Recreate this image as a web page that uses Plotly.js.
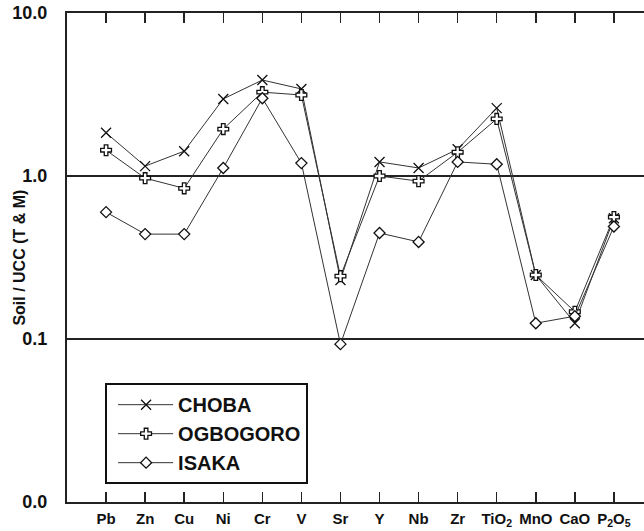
<!DOCTYPE html>
<html><head><meta charset="utf-8">
<script src="https://cdn.plot.ly/plotly-3.0.1.min.js"></script>
<style>html,body{margin:0;padding:0;background:#fff;overflow:hidden}#chart{width:644px;height:531px}</style>
</head><body><div id="chart"></div>
<script>
const categories = ['Pb','Zn','Cu','Ni','Cr','V','Sr','Y','Nb','Zr','TiO<sub>2</sub>','MnO','CaO','P<sub>2</sub>O<sub>5</sub>'];
const choba    = [1.84, 1.15, 1.42, 2.97, 3.88, 3.42, 0.23, 1.22, 1.12, 1.46, 2.61, 0.247, 0.125, 0.55];
const ogbogoro = [1.44, 0.97, 0.84, 1.94, 3.27, 3.14, 0.243, 1.0, 0.93, 1.40, 2.24, 0.247, 0.147, 0.56];
const isaka    = [0.60, 0.44, 0.44, 1.12, 3.0, 1.2, 0.093, 0.447, 0.394, 1.22, 1.18, 0.125, 0.138, 0.49];
const yTickVals = [0.01, 0.1, 1, 10];
const yTickText = ['0.0', '0.1', '1.0', '10.0'];

function mk(name, y, symbol, size, fill) {
  return {x: categories, y: y, name: name, type: 'scatter', mode: 'lines+markers',
    line: {color: '#333', width: 1},
    marker: {symbol: symbol, size: size, color: fill, line: {color: '#111', width: 1.3}}};
}
const traces = [
  mk('CHOBA', choba, 'x-thin-open', 10, '#111'),
  mk('OGBOGORO', ogbogoro, 'cross', 9, '#fff'),
  mk('ISAKA', isaka, 'diamond', 8.5, '#fff')
];

const layout = {
  width: 644, height: 531,
  margin: {l: 67, r: 0, t: 13, b: 29},
  paper_bgcolor: '#fff', plot_bgcolor: '#fff',
  font: {family: '"Liberation Sans", Arial, sans-serif', color: '#111'},
  showlegend: true,
  legend: {x: 0.066, y: 0.243, xanchor: 'left', yanchor: 'top',
    bordercolor: '#111', borderwidth: 2, bgcolor: '#fff',
    font: {size: 20, weight: 'bold', color: '#111'},
    tracegroupgap: 0, itemwidth: 61},
  xaxis: {type: 'category', range: [-1, 13.77], showgrid: false, zeroline: false,
    showline: true, linecolor: '#222', linewidth: 2, mirror: 'ticks',
    ticks: 'inside', ticklen: 10, tickwidth: 1.5, tickcolor: '#222',
    tickfont: {size: 15, weight: 'bold', color: '#111'}, ticklabelstandoff: 2},
  yaxis: {type: 'log', range: [-2, 1], tickvals: yTickVals, ticktext: yTickText,
    showgrid: true, gridcolor: '#222', gridwidth: 1.5, zeroline: false,
    showline: true, linecolor: '#222', linewidth: 2, ticks: '',
    ticklabelstandoff: 14,
    tickfont: {size: 18, weight: 'bold', color: '#111'}},
  annotations: [{text: 'Soil / UCC (T & M)', xref: 'paper', yref: 'paper',
    x: -0.083, y: 0.5, xanchor: 'center', yanchor: 'middle', textangle: -90,
    showarrow: false, font: {size: 16, weight: 'bold', color: '#111'}}]
};
Plotly.newPlot('chart', traces, layout, {displayModeBar: false, staticPlot: true}).then(function (gd) {
  // lengthen the legend line samples and centre their markers, as in the reference
  gd.querySelectorAll('.legend .legendlines path').forEach(function (p) { p.setAttribute('d', 'M11,0h55'); });
  gd.querySelectorAll('.legend .legendpoints path.scatterpts').forEach(function (p) { p.setAttribute('transform', 'translate(39,0)'); });
});
</script></body></html>
